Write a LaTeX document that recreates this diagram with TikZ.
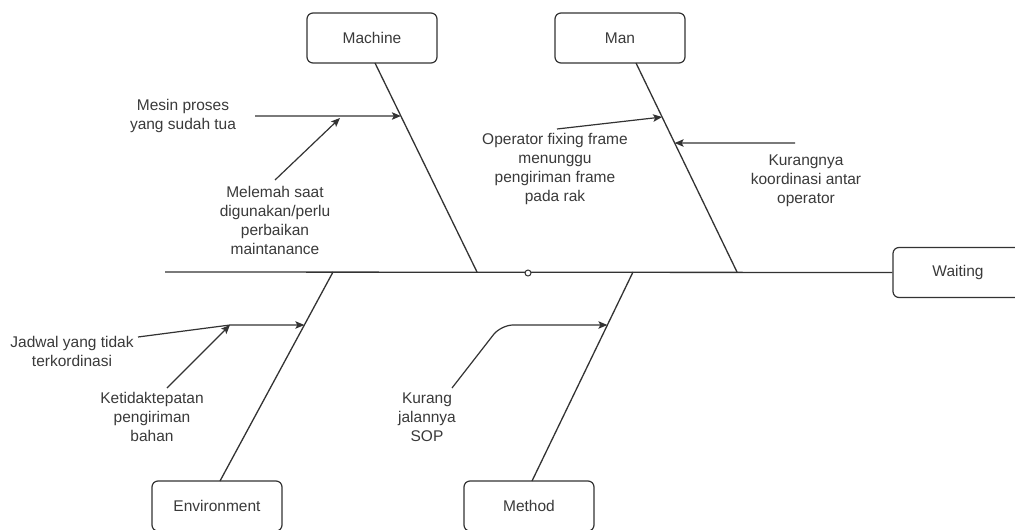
\documentclass[tikz,border=0pt]{standalone}
\usepackage{fontspec}
\setmainfont{Liberation Sans}
\usetikzlibrary{arrows.meta,calc}
\definecolor{ink}{HTML}{333333}
\definecolor{txt}{HTML}{3A3A3A}
\begin{document}
\begin{tikzpicture}[x=1pt,y=-1pt,
  font=\fontsize{15.5}{19}\selectfont,
  catbox/.style={draw=ink, line width=1.2pt, rounded corners=6pt, minimum width=130pt, minimum height=50pt, inner sep=0pt, text=txt, fill=white},
  lbl/.style={align=center, text=txt, inner sep=0pt},
  bone/.style={draw=ink, line width=1.3pt},
  cause/.style={draw=ink, line width=1.2pt, -{Stealth[length=9pt,width=7.5pt,inset=2pt]}},
  plain/.style={draw=ink, line width=1.2pt}]
\useasboundingbox (0,0) rectangle (1015,530);
\clip (0,0) rectangle (1015,530);
\fill[white] (0,0) rectangle (1015,530);

% category boxes
\node[catbox] (machine) at (372,38) {Machine};
\node[catbox] (man) at (620,38) {Man};
\node[catbox] (env) at (217,506) {Environment};
\node[catbox] (method) at (529,506) {Method};
\node[catbox] (waiting) at (958,272.5) {Waiting};

% spine
\coordinate (tail) at (165,272);
\draw[bone] (tail) -- (waiting.west);
\node[circle, draw=ink, fill=white, line width=1pt, minimum size=6pt, inner sep=0pt] (mid) at (528,273) {};

% bones
\coordinate (mtop) at (375,63);
\coordinate (mbot) at (477,272);
\coordinate (ntop) at (636,63);
\coordinate (nbot) at (737,272);
\coordinate (etop) at (220,481);
\coordinate (ebot) at (333,272);
\coordinate (ktop) at (532,481);
\coordinate (kbot) at (633,272);
\draw[bone] (mtop) -- (mbot);
\draw[bone] (ntop) -- (nbot);
\draw[bone] (etop) -- (ebot);
\draw[bone] (ktop) -- (kbot);

% cause labels
\node[lbl] (mesin) at (183,116) {Mesin proses\\yang sudah tua};
\node[lbl] (melemah) at (275,220) {Melemah saat\\digunakan/perlu\\perbaikan\\maintanance};
\node[lbl] (operator) at (555,169) {Operator fixing frame\\menunggu\\pengiriman frame\\pada rak};
\node[lbl] (kurangnya) at (806,181) {Kurangnya\\koordinasi antar\\operator};
\node[lbl] (jadwal) at (72,351) {Jadwal yang tidak\\terkordinasi};
\node[lbl] (ketidak) at (152,417) {Ketidaktepatan\\pengiriman\\bahan};
\node[lbl] (sop) at (427,417) {Kurang\\jalannya\\SOP};

% Machine causes
\coordinate (mesinS) at (255,116);
\coordinate (mesinE) at ($(mtop)!0.2536!(mbot)$);
\coordinate (melS) at (275,180);
\coordinate (melE) at (340,118);
\draw[cause] (mesinS) -- (mesinE);
\draw[cause] (melS) -- (melE);

% Man causes
\coordinate (opS) at (557,129);
\coordinate (opE) at ($(ntop)!0.2584!(nbot)$);
\coordinate (kuS) at (795,143);
\coordinate (kuE) at ($(ntop)!0.3828!(nbot)$);
\draw[cause] (opS) -- (opE);
\draw[cause] (kuS) -- (kuE);

% Environment causes
\coordinate (jaS) at (138,337);
\coordinate (jaC) at (230,325);
\coordinate (jaE) at ($(ebot)!0.2536!(etop)$);
\coordinate (keS) at (167,388);
\draw[cause] (jaS) -- (jaC) -- (jaE);
\draw[cause] (keS) -- (jaC);

% Method cause
\coordinate (sopS) at (452,388);
\coordinate (sopC) at (501,325);
\coordinate (sopE) at ($(kbot)!0.2536!(ktop)$);
\draw[cause, rounded corners=12pt] (sopS) -- (sopC) -- (sopE);
\end{tikzpicture}
\end{document}
